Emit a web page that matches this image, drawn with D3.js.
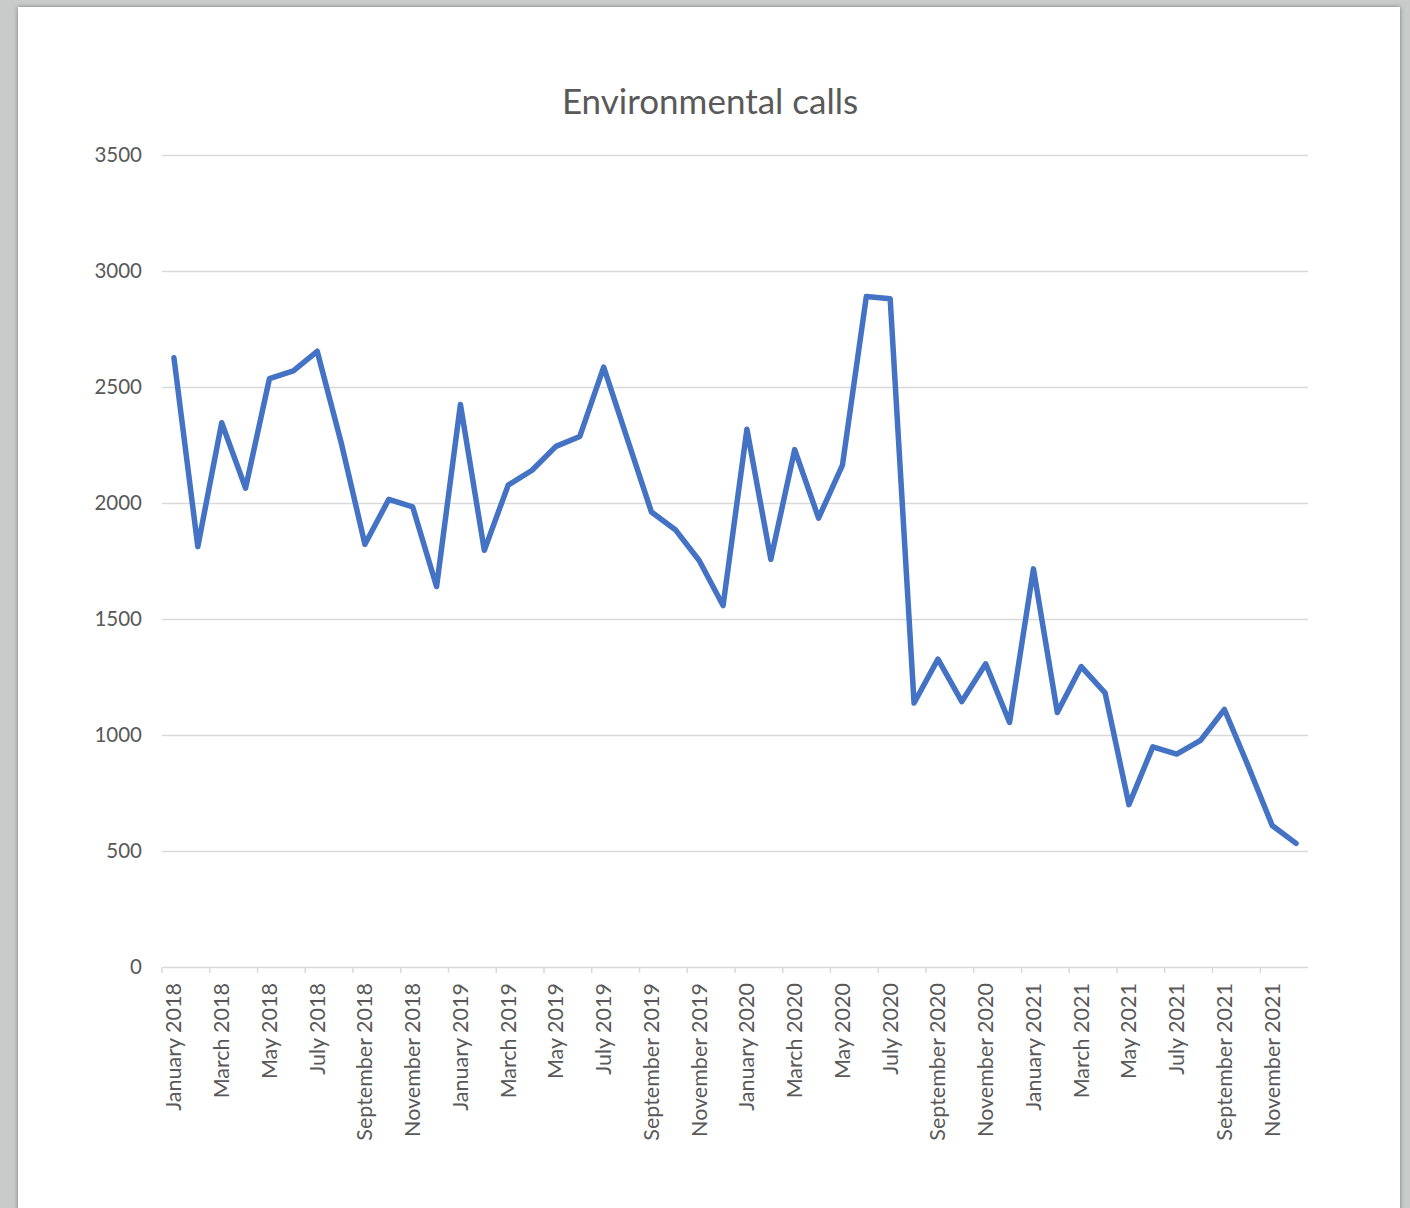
<!DOCTYPE html>
<html>
<head>
<meta charset="utf-8">
<script src="https://cdn.jsdelivr.net/npm/d3@7"></script>
<style>
  html, body { margin: 0; padding: 0; background: #c9caca; }
  svg { display: block; }
  text { font-family: Carlito, Calibri, Lato, "Open Sans", sans-serif; fill: #595959; }
</style>
</head>
<body>
<svg id="chart" width="1410" height="1208"></svg>
<script>
// Monthly environmental call counts, January 2018 – December 2021
const monthNames = ["January", "February", "March", "April", "May", "June",
  "July", "August", "September", "October", "November", "December"];
const years = [2018, 2019, 2020, 2021];
const calls2018 = [2626, 1812, 2346, 2064, 2536, 2569, 2654, 2262, 1822, 2016, 1983, 1640];
const calls2019 = [2425, 1796, 2077, 2141, 2244, 2287, 2586, 2273, 1961, 1885, 1752, 1558];
const calls2020 = [2318, 1757, 2230, 1935, 2163, 2890, 2880, 1138, 1327, 1144, 1307, 1054];
const calls2021 = [1716, 1097, 1295, 1182, 700, 949, 918, 977, 1110, 865, 610, 533];
const yTicks = [0, 500, 1000, 1500, 2000, 2500, 3000, 3500];
const title = "Environmental calls";

const categories = years.flatMap(y => monthNames.map(m => `${m} ${y}`));
const values = [...calls2018, ...calls2019, ...calls2020, ...calls2021];
const data = categories.map((c, i) => ({ month: c, value: values[i] }));

const svg = d3.select("#chart");

// Page sheet with a soft edge shadow
const defs = svg.append("defs");
const shadow = defs.append("filter").attr("id", "sheetShadow")
  .attr("x", "-5%").attr("y", "-5%").attr("width", "110%").attr("height", "110%");
shadow.append("feDropShadow").attr("dx", 0).attr("dy", 0)
  .attr("stdDeviation", 2.2).attr("flood-color", "#6e6e6e").attr("flood-opacity", 0.9);
svg.append("rect").attr("x", 18).attr("y", 7).attr("width", 1382).attr("height", 1230)
  .attr("fill", "#ffffff").attr("filter", "url(#sheetShadow)");

const plot = { left: 162, right: 1308, top: 155, bottom: 967 };

const x = d3.scaleBand().domain(categories).range([plot.left, plot.right]).padding(0);
const y = d3.scaleLinear().domain([0, 3500]).range([plot.bottom, plot.top]);
const bw = x.bandwidth();

// Horizontal gridlines with value labels
const yAxis = svg.append("g")
  .attr("transform", `translate(${plot.left},0)`)
  .call(d3.axisLeft(y).tickValues(yTicks).tickSize(-(plot.right - plot.left)).tickPadding(20).tickFormat(d3.format("d")));
yAxis.select(".domain").remove();
yAxis.selectAll(".tick line").attr("stroke", "#d9d9d9").attr("stroke-width", 1.5);
yAxis.selectAll(".tick text").attr("font-size", 20.5).attr("fill", "#595959")
  .style("font-family", "Lato, sans-serif");
yAxis.selectAll(".tick").filter(d => d === 0).select("line").remove();

// Category axis: a label and tick on every second month
const xTickCats = categories.filter((c, i) => i % 2 === 0);
const xAxis = svg.append("g")
  .attr("transform", `translate(0,${plot.bottom})`)
  .call(d3.axisBottom(x).tickValues(xTickCats).tickSize(6).tickSizeOuter(0));
xAxis.select(".domain").attr("stroke", "#d9d9d9").attr("stroke-width", 1.5)
  .attr("d", `M${plot.left},0.5H${plot.right}`);
xAxis.selectAll(".tick line").attr("stroke", "#d9d9d9").attr("stroke-width", 1.5)
  .attr("x1", -bw / 2).attr("x2", -bw / 2);
xAxis.selectAll(".tick text")
  .attr("font-size", 21.5)
  .style("font-family", "Lato, sans-serif")
  .attr("fill", "#595959")
  .attr("transform", "rotate(-90)")
  .attr("text-anchor", "end")
  .attr("dy", "0.35em")
  .attr("x", -16)
  .attr("y", 0);

// The monthly series
const line = d3.line()
  .x(d => x(d.month) + bw / 2)
  .y(d => y(d.value));
svg.append("path").datum(data)
  .attr("d", line)
  .attr("fill", "none")
  .attr("stroke", "#4472c4")
  .attr("stroke-width", 5.5)
  .attr("stroke-linejoin", "round")
  .attr("stroke-linecap", "round");

// Title
svg.append("text")
  .attr("x", 710).attr("y", 114)
  .attr("text-anchor", "middle")
  .attr("font-size", 35)
  .style("font-family", "Lato, sans-serif")
  .attr("fill", "#595959")
  .text(title);
</script>
</body>
</html>
